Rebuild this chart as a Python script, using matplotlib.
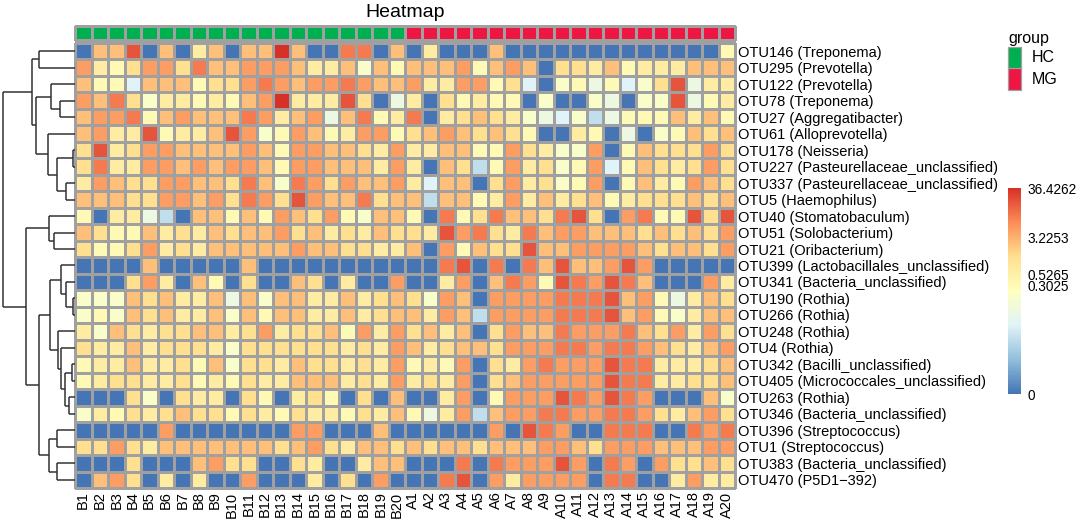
import numpy as np
import matplotlib
matplotlib.use("Agg")
import matplotlib.pyplot as plt
from matplotlib.colors import LinearSegmentedColormap, ListedColormap, Normalize
from matplotlib.patches import Rectangle
from matplotlib.cm import ScalarMappable

plt.rcParams['font.family'] = ['Liberation Sans', 'DejaVu Sans']

# sample names and groups
samples = ["B%d" % i for i in range(1, 21)] + ["A%d" % i for i in range(1, 21)]
groups = ["HC"] * 20 + ["MG"] * 20
group_colors = {"HC": "#00B050", "MG": "#EE1642"}

otus = ["OTU146 (Treponema)", "OTU295 (Prevotella)", "OTU122 (Prevotella)",
        "OTU78 (Treponema)", "OTU27 (Aggregatibacter)", "OTU61 (Alloprevotella)",
        "OTU178 (Neisseria)", "OTU227 (Pasteurellaceae_unclassified)",
        "OTU337 (Pasteurellaceae_unclassified)", "OTU5 (Haemophilus)",
        "OTU40 (Stomatobaculum)", "OTU51 (Solobacterium)", "OTU21 (Oribacterium)",
        "OTU399 (Lactobacillales_unclassified)", "OTU341 (Bacteria_unclassified)",
        "OTU190 (Rothia)", "OTU266 (Rothia)", "OTU248 (Rothia)", "OTU4 (Rothia)",
        "OTU342 (Bacilli_unclassified)", "OTU405 (Micrococcales_unclassified)",
        "OTU263 (Rothia)", "OTU346 (Bacteria_unclassified)", "OTU396 (Streptococcus)",
        "OTU1 (Streptococcus)", "OTU383 (Bacteria_unclassified)", "OTU470 (P5D1\u2212392)"]

# colour level of every cell, 0..f (hex) = position on the colour bar
# levels_hc: B1..B20, levels_mg: A1..A20
levels_hc = [
    "0bbe0b09b0bbfb00dd0b", "c98accadbbcccb99b7b8", "b885bbb8aacdcbccdcbb",
    "cbda799898bcf999ea06", "bccd8bcbbbdc9bc6bd89", "bc99e899bec78cb89cc8",
    "ae9accbbbbcb8ccbba9c", "ad99ccbcbccb8ccbbb9c", "9cbaaccbbadb7dcacbbc",
    "bbbaaccbcadcaecbbdab", "8099640bb8b8cbac87bb", "ba88b9a9babbcab9a9ba",
    "a88ac9a9bbbbbcbbaa99", "0000b00000b000000000", "000ac90b80a00ba0900c",
    "777bab99b6b7bb99b9ab", "787bab99b7b8bb99b9ab", "97ba9aabb9ac9aab8c9c",
    "a99b9aaa97aaaaaa9a9c", "899b99a8b7aa9baa9a9c", "89aa99a898a99bbb9a9c",
    "000a70a990a809a80a0b", "798a9abaa8a98a998a9b", "00000c0000000cc000b0",
    "aaca9bbbbbbbabca9bba", "000a000bcaa00a9009bb", "0bca090900c00090a0c0"]
levels_mg = [
    "09000b00000000000008", "bbbc8bcb0aa9b8999bbb", "c99cc8a50786857ae699",
    "90a8988070076077e689", "d09aba9765746888b9b8", "abcbaba8009806078bab",
    "99bb88ca977c08baaaca", "90ba48c9a78c58ba9aca", "95bb0ac9a78c08b98cba",
    "b4bb89c9b9ab89aaabab", "80d8adbbadea0cd88eae", "a9ecda9dbccbbbababac",
    "b0c8baaebbccccbabbac", "00de0d0dbebbcec00000", "009c0bdc8edcedb000c9",
    "a7cb0ccccdddebc869ba", "b9cb4ccccdddebc879bb", "ab9b0acbbdcccdbac9ca",
    "b9abbacccddcddcba9bc", "898c0a9cdcccedd999ab", "9a9c0abcccccedd99aab",
    "009c08cccedcedc000b7", "869c4bccddccddca9bca", "00000c0edc00ddd00dcd",
    "babbabbbccbacccbbbcc", "000d0dcccec0dc0caaba", "00de0c9cccc0dd009c99"]

# colour bar labels (abundance, log scaled)
cb_values = [0, 0.3025, 0.5265, 3.2253, 36.4262]

# row clustering: (child a, child b, height); ids >= 27 are earlier merges
linkage = [
    (0, 1, 35.7), (3, 4, 15.0), (2, 28, 24.0), (6, 7, 2.3), (8, 9, 9.0),
    (30, 31, 18.3), (5, 32, 27.3), (29, 33, 39.3), (27, 34, 43.3),
    (11, 12, 20.7), (10, 36, 25.7), (15, 16, 1.7), (14, 38, 9.3), (13, 39, 14.0),
    (19, 20, 3.3), (21, 22, 6.0), (41, 42, 10.0), (18, 43, 14.3), (17, 44, 16.7),
    (40, 45, 25.0), (23, 24, 18.3), (25, 26, 18.3), (47, 48, 25.7),
    (46, 49, 36.0), (37, 50, 49.0), (35, 51, 71.7)]

W, H = 1084, 524


def box(x0, y0, x1, y1):
    return [x0 / W, 1 - y1 / H, (x1 - x0) / W, (y1 - y0) / H]


grid = np.array([[int(c, 16) / 15 for c in a + b] for a, b in zip(levels_hc, levels_mg)])
n_rows, n_cols = grid.shape

cmap = LinearSegmentedColormap.from_list(
    "rdylbu", ["#4575B4", "#91BFDB", "#E0F3F8", "#FFFFBF", "#FEE090", "#FC8D59", "#D73027"])
border = "#A0A0A0"
fs = 10.5

fig = plt.figure(figsize=(W / 100, H / 100), dpi=100)

# heatmap
ax = fig.add_axes(box(75, 43, 735, 488))
mesh = ax.pcolormesh(np.arange(n_cols + 1), np.arange(n_rows + 1), grid, cmap=cmap,
                     vmin=0, vmax=1, edgecolors=border, linewidth=0.9)
mesh.set_clip_on(False)
ax.set_xlim(0, n_cols)
ax.set_ylim(n_rows, 0)
for s in ax.spines.values():
    s.set_visible(False)
ax.yaxis.tick_right()
ax.set_yticks(np.arange(n_rows) + 0.5)
ax.set_yticklabels(otus, fontsize=fs)
ax.set_xticks(np.arange(n_cols) + 0.5)
ax.set_xticklabels(samples, rotation=90, fontsize=fs)
ax.tick_params(length=0, pad=2.5)

# group annotation
ax_g = fig.add_axes(box(75, 26, 735, 39.5))
gcodes = np.array([[0 if g == "HC" else 1 for g in groups]])
m2 = ax_g.pcolormesh(np.arange(n_cols + 1), [0, 1], gcodes,
                     cmap=ListedColormap([group_colors["HC"], group_colors["MG"]]),
                     vmin=0, vmax=1, edgecolors=border, linewidth=0.9)
m2.set_clip_on(False)
ax_g.set_xlim(0, n_cols)
ax_g.set_ylim(1, 0)
ax_g.axis("off")

# dendrogram
ax_d = fig.add_axes(box(0, 43, 75, 488))
pos = {i: i + 0.5 for i in range(n_rows)}
hgt = {i: 0.0 for i in range(n_rows)}
for k, (a, b, h) in enumerate(linkage):
    node = n_rows + k
    for c in (a, b):
        ax_d.plot([hgt[c], h], [pos[c], pos[c]], color="#333333", lw=1.1,
                  solid_capstyle="butt")
    ax_d.plot([h, h], [pos[a], pos[b]], color="#333333", lw=1.1, solid_capstyle="butt")
    pos[node] = (pos[a] + pos[b]) / 2
    hgt[node] = h
ax_d.set_xlim(75, 0)
ax_d.set_ylim(n_rows, 0)
ax_d.axis("off")

# title
fig.text(405 / W, 1 - 16.7 / H, "Heatmap", ha="center", va="baseline", fontsize=14)

# group legend
fig.text(1008 / W, 1 - 43.3 / H, "group", ha="left", va="baseline", fontsize=11.5)
for i, g in enumerate(["HC", "MG"]):
    y0 = 47.5 + i * 21
    fig.add_artist(Rectangle((1008 / W, 1 - (y0 + 21) / H), 13 / W, 21 / H,
                             transform=fig.transFigure, facecolor=group_colors[g],
                             edgecolor=border, linewidth=0.9))
    fig.text(1032 / W, 1 - (y0 + 10.5) / H, g, ha="left", va="center", fontsize=11.5)

# colour bar with log-scaled labels
c = 0.0015
def cb_pos(v):
    return (np.log10(v + c) - np.log10(c)) / (np.log10(cb_values[-1] + c) - np.log10(c))

cax = fig.add_axes(box(1008, 188, 1021, 394))
cb = fig.colorbar(ScalarMappable(norm=Normalize(0, 1), cmap=cmap), cax=cax)
cb.outline.set_visible(False)
cb.set_ticks([cb_pos(v) for v in cb_values])
cb.set_ticklabels(["0" if v == 0 else "%.4f" % v for v in cb_values])
cax.tick_params(length=0, pad=4.5, labelsize=9.8)

fig.savefig("out.png", dpi=100)
